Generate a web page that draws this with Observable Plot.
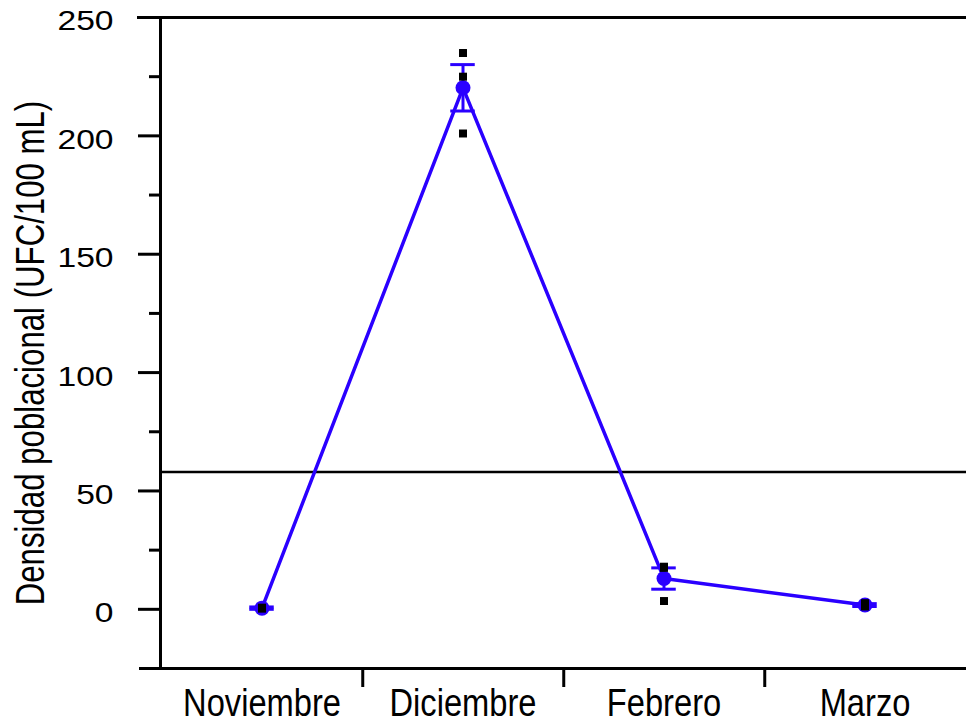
<!DOCTYPE html>
<html>
<head>
<meta charset="utf-8">
<script src="https://cdn.jsdelivr.net/npm/d3@7"></script>
<script src="https://cdn.jsdelivr.net/npm/@observablehq/plot@0.6"></script>
<style>
  html, body { margin: 0; padding: 0; background: #fff; }
  svg { display: block; }
</style>
</head>
<body>
<div id="chart"></div>
<script>
// ---- data ----
const months = ["Noviembre", "Diciembre", "Febrero", "Marzo"];
const means = [0.5, 220.3, 13.0, 1.8];
const errors = [0.5, 9.8, 4.5, 0.6];
const replicates = [
  [0.3, 0.5, 0.7],
  [235, 225, 201],
  [17.5, 18, 3.5],
  [1.2, 1.5, 2.6]
];
const referenceLine = [58];
const majorTicks = [0, 50, 100, 150, 200, 250];
const minorTicks = [25, 75, 125, 175, 225];
const yTitle = "Densidad poblacional (UFC/100 mL)";

// ---- tables built from the arrays ----
const rows = months.map((m, i) => ({month: m, mean: means[i], lo: means[i] - errors[i], hi: means[i] + errors[i]}));
const raw = months.flatMap((m, i) => replicates[i].map(v => ({month: m, value: v})));

const blue = "#2a00ff";
const W = 966, H = 725, ML = 160, MR = 0, MT = 17, MB = 57;
const bw = (W - ML - MR) / months.length;
const font = "Liberation Sans, Arial, Helvetica, sans-serif";

const chart = Plot.plot({
  width: W,
  height: H,
  marginLeft: ML,
  marginRight: MR,
  marginTop: MT,
  marginBottom: MB,
  style: {background: "#fff", overflow: "visible", color: "#000", fontFamily: font},
  x: {type: "band", domain: months, padding: 0, axis: null},
  y: {domain: [-25, 250], axis: null},
  marks: [
    Plot.ruleY(referenceLine, {stroke: "#000", strokeWidth: 2.5}),
    Plot.frame({anchor: "left", stroke: "#000", strokeWidth: 3}),
    Plot.frame({anchor: "top", stroke: "#000", strokeWidth: 3, insetLeft: -22}),
    Plot.frame({anchor: "bottom", stroke: "#000", strokeWidth: 3, insetLeft: -20}),
    Plot.axisY({ticks: majorTicks, tickSize: 22, strokeWidth: 3, tickFormat: () => "", label: null}),
    Plot.axisY({ticks: majorTicks, tickSize: 0, tickPadding: 47, dy: 4,
      fontSize: 28, fontFamily: font, label: null, tickFormat: d => String(d)}),
    Plot.axisY({ticks: minorTicks, tickSize: 11, strokeWidth: 3, tickFormat: () => "", label: null}),
    Plot.axisX({ticks: months.slice(0, months.length - 1), tickSize: 19, dx: bw / 2, strokeWidth: 3,
      tickFormat: () => "", label: null}),
    Plot.axisX({tickSize: 0, tickPadding: 21, fontSize: 38, fontFamily: font, label: null}),
    Plot.text([yTitle], {frameAnchor: "left", text: d => d, rotate: -90, dx: -129, dy: 10,
      textAnchor: "middle", fontSize: 40, fontFamily: font, fill: "#000"}),
    Plot.line(rows, {x: "month", y: "mean", stroke: blue, strokeWidth: 3.5}),
    Plot.ruleX(rows, {x: "month", y1: "lo", y2: "hi", stroke: blue, strokeWidth: 3}),
    Plot.tickY(rows, {x: "month", y: "hi", stroke: blue, strokeWidth: 3, insetLeft: (bw - 25) / 2, insetRight: (bw - 25) / 2}),
    Plot.tickY(rows, {x: "month", y: "lo", stroke: blue, strokeWidth: 3, insetLeft: (bw - 25) / 2, insetRight: (bw - 25) / 2}),
    Plot.dot(rows, {x: "month", y: "mean", r: 7.5, fill: blue, stroke: "none"}),
    Plot.dot(raw, {x: "month", y: "value", symbol: "square", r: 4.5, fill: "#000", stroke: "none"})
  ]
});
document.getElementById("chart").appendChild(chart);

// font proportions of the reference: condensed category / title text, wide tick numerals
function stretch(match, sx, sy) {
  chart.querySelectorAll("text").forEach(t => {
    if (!match(t.textContent)) return;
    let tx = 0, ty = 0;
    const xa = t.getAttribute("x"), ya = t.getAttribute("y");
    if (xa !== null && isFinite(+xa)) { tx = +xa; t.removeAttribute("x"); }
    if (ya !== null && isFinite(+ya)) { ty = +ya; t.removeAttribute("y"); }
    const tr = t.getAttribute("transform") || "";
    t.setAttribute("transform", `translate(${tx},${ty}) ${tr} scale(${sx},${sy})`);
  });
}
stretch(s => months.includes(s), 0.86, 1);
stretch(s => s === yTitle, 0.78, 1);
stretch(s => majorTicks.map(String).includes(s), 1.2, 1);
</script>
</body>
</html>
